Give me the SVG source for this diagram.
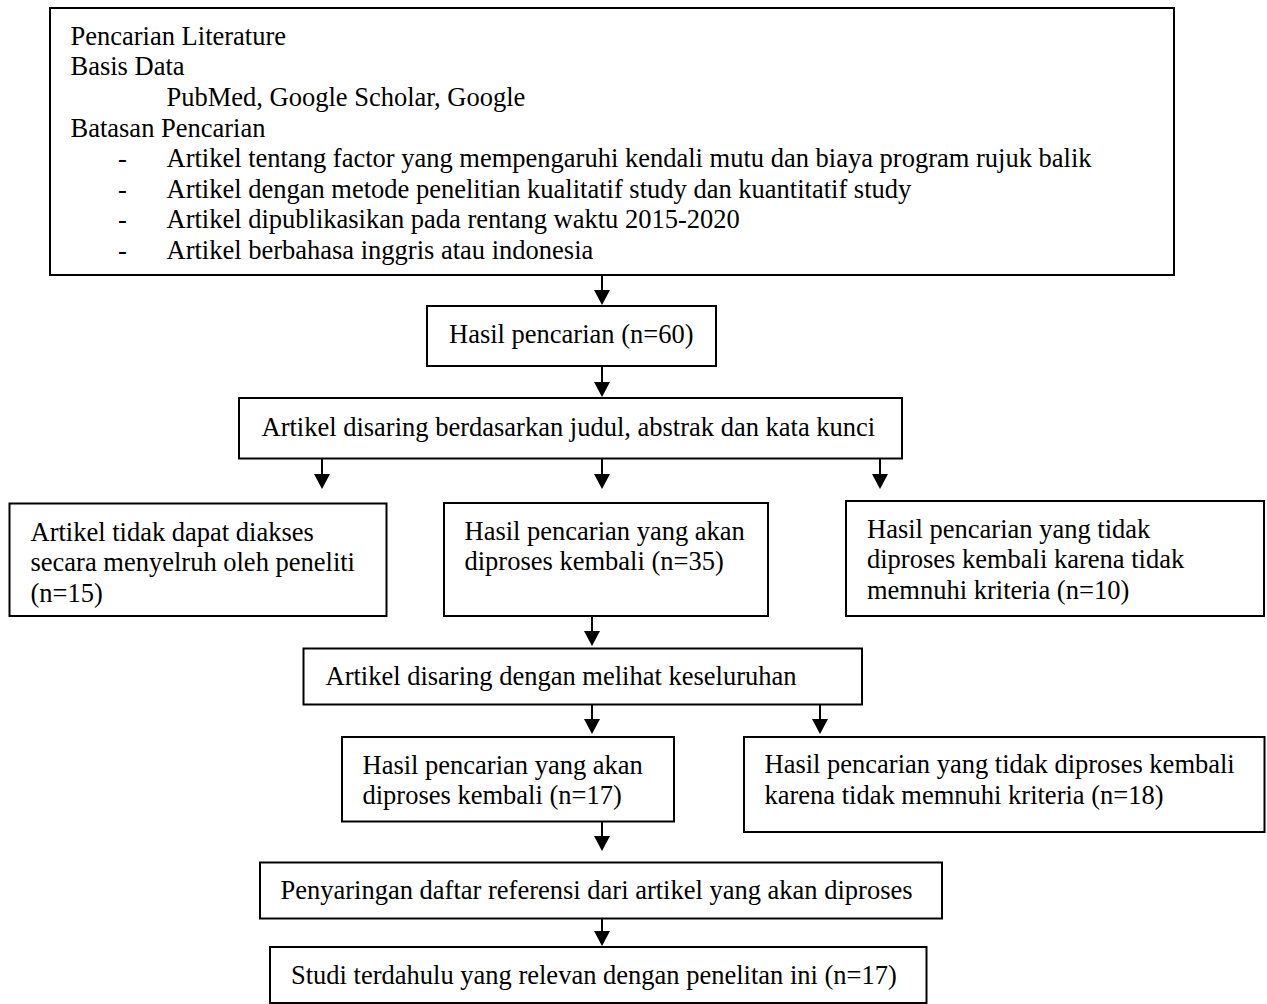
<svg xmlns="http://www.w3.org/2000/svg" width="1267" height="1004" viewBox="0 0 1267 1004">
<style>
.box{fill:#fff;stroke:#000;stroke-width:2}
.t{font-family:"Liberation Serif","Times New Roman",serif;font-size:26.5px;fill:#000}
.c{stroke:#000;stroke-width:2;fill:none;marker-end:url(#ah)}
</style>
<defs>
<marker id="ah" viewBox="0 0 15 16" refX="2" refY="8" markerWidth="15" markerHeight="16" markerUnits="userSpaceOnUse" orient="auto">
<path d="M0,0 L15,8 L0,16 z" fill="#000"/>
</marker>
</defs>
<rect width="1267" height="1004" fill="#fff"/>
<g id="connectors">
<line class="c" x1="602" y1="275" x2="602" y2="292"/>
<line class="c" x1="602" y1="366" x2="602" y2="384"/>
<line class="c" x1="322" y1="459" x2="322" y2="476"/>
<line class="c" x1="602" y1="459" x2="602" y2="476"/>
<line class="c" x1="880" y1="459" x2="880" y2="476"/>
<line class="c" x1="592" y1="616" x2="592" y2="633"/>
<line class="c" x1="592" y1="704" x2="592" y2="721"/>
<line class="c" x1="820" y1="704" x2="820" y2="721"/>
<line class="c" x1="602" y1="822" x2="602" y2="838"/>
<line class="c" x1="602" y1="918" x2="602" y2="933"/>
</g>
<g id="literature">
<rect class="box" x="50" y="8" width="1124" height="267"/>
<text class="t" x="70.5" y="44.5">Pencarian Literature</text>
<text class="t" x="70.5" y="75">Basis Data</text>
<text class="t" x="166.5" y="105.5">PubMed, Google Scholar, Google</text>
<text class="t" x="70.5" y="136.5">Batasan Pencarian</text>
<text class="t" x="118" y="167">-</text>
<text class="t" x="166.5" y="167">Artikel tentang factor yang mempengaruhi kendali mutu dan biaya program rujuk balik</text>
<text class="t" x="118" y="197.5">-</text>
<text class="t" x="166.5" y="197.5">Artikel dengan metode penelitian kualitatif study dan kuantitatif study</text>
<text class="t" x="118" y="228">-</text>
<text class="t" x="166.5" y="228">Artikel dipublikasikan pada rentang waktu 2015-2020</text>
<text class="t" x="118" y="258.5">-</text>
<text class="t" x="166.5" y="258.5">Artikel berbahasa inggris atau indonesia</text>
</g>
<g id="hasil60">
<rect class="box" x="427" y="306" width="289" height="60"/>
<text class="t" x="449" y="343">Hasil pencarian (n=60)</text>
</g>
<g id="saring1">
<rect class="box" x="239" y="398" width="663" height="60.5"/>
<text class="t" x="261.5" y="435.5">Artikel disaring berdasarkan judul, abstrak dan kata kunci</text>
</g>
<g id="tidakakses">
<rect class="box" x="9.5" y="503.5" width="377" height="112.5"/>
<text class="t" x="30.5" y="540.5">Artikel tidak dapat diakses</text>
<text class="t" x="30.5" y="571">secara menyelruh oleh peneliti</text>
<text class="t" x="30.5" y="601.5">(n=15)</text>
</g>
<g id="proses35">
<rect class="box" x="444" y="503" width="324" height="113"/>
<text class="t" x="464.5" y="539.5">Hasil pencarian yang akan</text>
<text class="t" x="464.5" y="570">diproses kembali (n=35)</text>
</g>
<g id="tidak10">
<rect class="box" x="846" y="501" width="418" height="115"/>
<text class="t" x="867" y="537.5">Hasil pencarian yang tidak</text>
<text class="t" x="867" y="568">diproses kembali karena tidak</text>
<text class="t" x="867" y="598.5">memnuhi kriteria (n=10)</text>
</g>
<g id="saring2">
<rect class="box" x="303.5" y="648.5" width="558.5" height="56"/>
<text class="t" x="325.5" y="685">Artikel disaring dengan melihat keseluruhan</text>
</g>
<g id="proses17">
<rect class="box" x="342" y="737" width="332" height="84.5"/>
<text class="t" x="362.5" y="773.5">Hasil pencarian yang akan</text>
<text class="t" x="362.5" y="804">diproses kembali (n=17)</text>
</g>
<g id="tidak18">
<rect class="box" x="744" y="737" width="520.5" height="95"/>
<text class="t" x="764.5" y="773">Hasil pencarian yang tidak diproses kembali</text>
<text class="t" x="764.5" y="803.5">karena tidak memnuhi kriteria (n=18)</text>
</g>
<g id="penyaringan">
<rect class="box" x="260" y="862.5" width="682" height="56"/>
<text class="t" x="280.5" y="898.5">Penyaringan daftar referensi dari artikel yang akan diproses</text>
</g>
<g id="studi">
<rect class="box" x="270" y="947" width="656.5" height="56"/>
<text class="t" x="291" y="983.5">Studi terdahulu yang relevan dengan penelitan ini (n=17)</text>
</g>
</svg>
